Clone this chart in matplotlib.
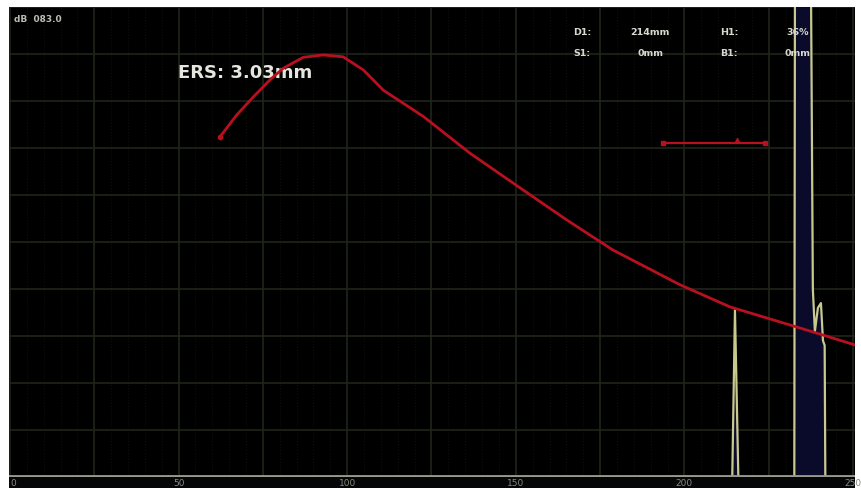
import numpy as np
import matplotlib
matplotlib.use("Agg")
import matplotlib.pyplot as plt

# DAC curve (depth mm, amplitude %)
dac_x = [62.3, 67.2, 72.2, 77.1, 81.1, 87.0, 92.9, 98.8, 104.8, 110.7, 122.6,
         136.4, 152.1, 165.1, 178.8, 198.7, 213.5, 233.4, 250.6]
dac_y = [72.4, 77.0, 80.9, 84.5, 87.0, 89.3, 89.8, 89.4, 86.6, 82.3, 76.7,
         68.9, 61.1, 54.7, 48.3, 40.9, 36.2, 31.9, 28.1]

# A-scan trace (depth mm, amplitude %), values above 100 are clipped
scan_x = [0, 214.2, 215.0, 216.0, 232.6, 232.8, 235.8, 237.5, 238.1, 238.7,
          239.6, 240.5, 241.1, 241.6, 241.8, 250.6]
scan_y = [0, 0, 35.5, 0, 0, 110, 110, 110, 40, 31, 36, 37, 29, 28, 0, 0]

# gate
gate_start, gate_end, gate_level, gate_mark = 193.6, 224.0, 71.1, 215.6

xticks = [0, 50, 100, 150, 200, 250]

fig = plt.figure(figsize=(8.62, 4.88), dpi=100, facecolor="white")
# dark strip below the plot for the depth labels
strip = fig.add_axes([9/862, 0, 846/862, 11/488])
strip.set_facecolor("#050607")
strip.set_xlim(-0.3, 250.6)
strip.set_ylim(0, 1)
strip.set_xticks([])
strip.set_yticks([])
for s in strip.spines.values():
    s.set_visible(False)
for t in xticks:
    strip.text(t, 0.45, str(t), color="#8a8a82", fontsize=6.5,
               ha="left" if t == 0 else "center", va="center")

ax = fig.add_axes([9/862, 11/488, 846/862, 470/488])
ax.set_facecolor("black")
ax.set_xlim(-0.3, 250.6)
ax.set_ylim(0, 100)

ax.set_xticks(np.arange(0, 251, 25))
ax.set_yticks(np.arange(0, 101, 10))
ax.set_xticks(np.arange(0, 251, 5), minor=True)
ax.grid(True, which="major", color="#20261a", lw=1.2)
ax.grid(True, which="minor", axis="x", color="#0d110b", lw=0.8, ls=":")
ax.tick_params(which="both", length=0, labelbottom=False, labelleft=False)
for s in ax.spines.values():
    s.set_visible(False)

# A-scan
ax.fill_between(scan_x, scan_y, 0, color="#0a0a2a", lw=0, zorder=2)
ax.plot(scan_x, scan_y, color="#c9c98e", lw=1.6, zorder=3)
ax.axhline(0.3, color="#9a9a8c", lw=2, zorder=3)

# DAC curve
ax.plot(dac_x, dac_y, color="#b8101f", lw=2, zorder=4)
ax.plot(dac_x[0], dac_y[0], "o", color="#b8101f", ms=3, zorder=4)

# gate
ax.plot([gate_start, gate_end], [gate_level, gate_level], color="#b8101f",
        lw=1.6, zorder=4)
ax.plot([gate_start, gate_end], [gate_level, gate_level], "s",
        color="#b8101f", ms=3, zorder=4)
ax.plot([gate_mark], [gate_level + 0.6], "^", color="#b8101f", ms=3, zorder=4)

# texts
ax.text(0.006, 0.974, "dB  083.0", transform=ax.transAxes, color="#bdbdb5",
        fontsize=6.5, fontweight="bold", va="center", ha="left")
ax.text((178 - 9) / 846, 1 - (73 - 7) / 470, "ERS: 3.03mm", transform=ax.transAxes,
        color="#e6e6e0", fontsize=13, fontweight="bold", va="center", ha="left")

row_labels = [["D1:", "214mm", "H1:", "36%"], ["S1:", "0mm", "B1:", "0mm"]]
col_px = [573, 650, 720, 798]
row_px = [33, 54]
for r, labels in enumerate(row_labels):
    for c, lab in enumerate(labels):
        xf = (col_px[c] - 9) / 846
        yf = 1 - (row_px[r] - 7) / 470
        ax.text(xf, yf, lab, transform=ax.transAxes, color="#d8d8d0",
                fontsize=6.8, fontweight="bold", va="center",
                ha="left" if c in (0, 2) else "center", zorder=5)

fig.savefig("out.png", dpi=100, facecolor="white")
